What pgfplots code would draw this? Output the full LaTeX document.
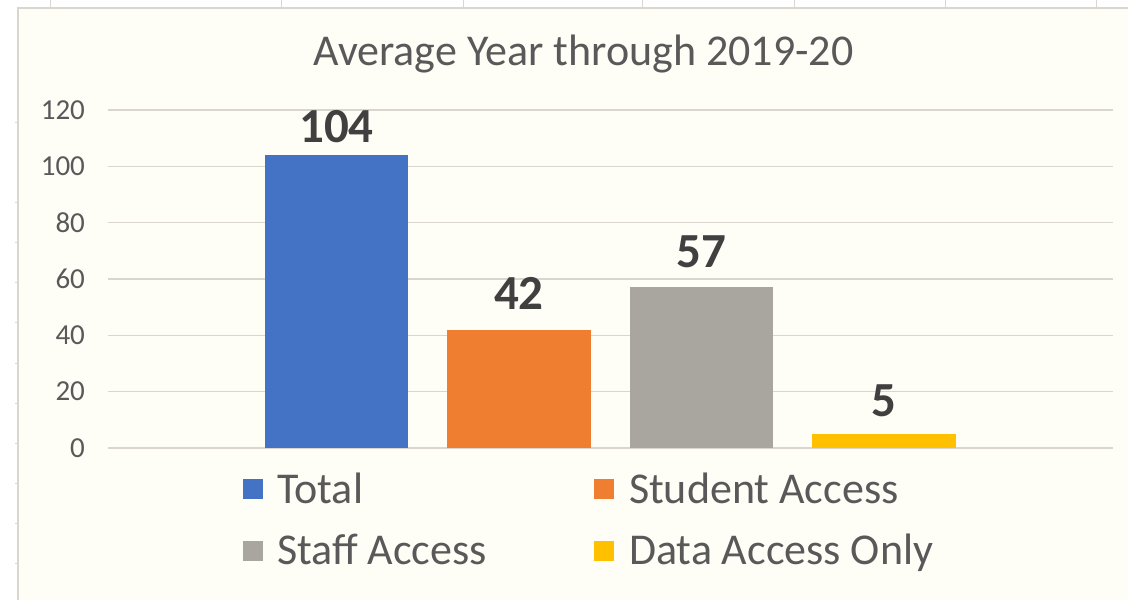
\documentclass[border=0pt]{standalone}
\usepackage{pgfplots}
\pgfplotsset{compat=1.18}
\usepackage{fontspec}
\setmainfont{Carlito}
\definecolor{bgcream}{HTML}{FEFDF6}
\definecolor{gridc}{HTML}{DAD5CF}
\definecolor{txtc}{HTML}{595959}
\definecolor{lblc}{HTML}{404040}
\definecolor{cblue}{HTML}{4472C4}
\definecolor{corange}{HTML}{EF7E31}
\definecolor{cgrey}{HTML}{A9A59F}
\definecolor{cyellow}{HTML}{FFC000}
\begin{document}
\begin{tikzpicture}
\useasboundingbox (0,0) rectangle (564pt,300pt);
\fill[white] (0,0) rectangle (564pt,300pt);
\fill[bgcream] (9pt,0) rectangle (564pt,296pt);
\draw[gridc, line width=0.8pt] (9pt,0) -- (9pt,296pt) -- (564pt,296pt);
\foreach \cx in {25,140.5,231.5,321,397,472.5,548}{\draw[gridc, line width=0.5pt] (\cx pt,296pt) -- (\cx pt,300pt);}
\foreach \ry in {238.5,198.5,178.5,158.5,138.5,118.5,98.5,78.5,58.5,38.5,18.5}{\draw[gridc, line width=0.5pt] (7.5pt,\ry pt) -- (9pt,\ry pt);}
\begin{axis}[
  at={(54pt,76pt)}, anchor=south west,
  scale only axis, width=502.5pt, height=169pt,
  xmin=-1.252, xmax=4.255, ymin=0, ymax=120,
  ybar, bar width=0.784, 
  axis line style={draw=none},
  tick style={draw=none},
  xtick=\empty,
  ytick={0,20,...,120},
  ymajorgrids, grid style={gridc, line width=0.8pt},
  yticklabel style={font=\fontsize{14.5}{14.5}\selectfont, text=txtc, xshift=-8pt},
  /pgf/number format/assume math mode=true,
  title={Average Year through 2019-20},
  title style={at={(axis description cs:0.473,1.131)}, anchor=center, font=\fontsize{22}{22}\selectfont, text=txtc},
  nodes near coords,
  nodes near coords style={font=\fontsize{24.5}{24.5}\bfseries\selectfont, text=lblc, anchor=south, yshift=2.5pt},
  legend columns=2,
  legend style={at={(axis description cs:0.128,-0.06)}, anchor=north west, draw=none, fill=none,
    font=\fontsize{22}{22}\selectfont, text=txtc,
    nodes={inner sep=0pt, anchor=west},
    /tikz/every odd column/.append style={column sep=7pt},
    /tikz/row sep=13.8pt},
  legend image code/.code={\fill[#1] (0pt,-5pt) rectangle (10pt,5pt);},
]
\addplot[fill=cblue, draw=none, bar shift=0pt] coordinates {(0,104)};
\addlegendentry{\makebox[158.5pt][l]{Total}}
\addplot[fill=corange, draw=none, bar shift=0pt, nodes near coords style={yshift=4pt}] coordinates {(1,42)};
\addlegendentry{\makebox[0pt][l]{Student Access}}
\addplot[fill=cgrey, draw=none, bar shift=0pt, nodes near coords style={yshift=4pt}] coordinates {(2,57)};
\addlegendentry{\makebox[158.5pt][l]{Staff Access}}
\addplot[fill=cyellow, draw=none, bar shift=0pt, nodes near coords style={yshift=2.5pt}] coordinates {(3,5)};
\addlegendentry{\makebox[0pt][l]{Data Access Only}}
\end{axis}
\end{tikzpicture}
\end{document}
